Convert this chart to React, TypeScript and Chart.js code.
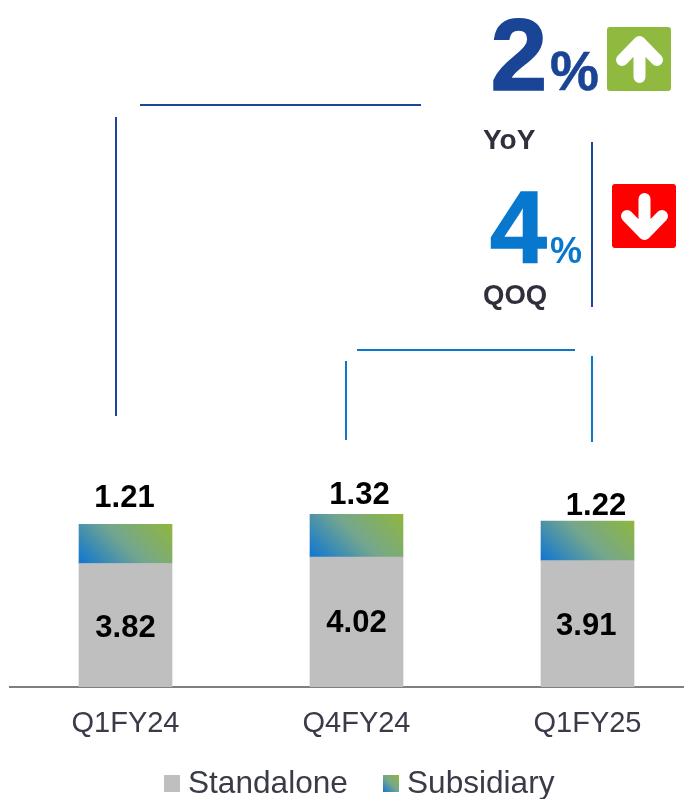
import React, { useEffect, useRef } from "react";
import { Chart, registerables } from "chart.js";

Chart.register(...registerables);

const categories = ["Q1FY24", "Q4FY24", "Q1FY25"];
const standalone = [3.82, 4.02, 3.91];
const subsidiary = [1.21, 1.32, 1.22];
const seriesNames = ["Standalone", "Subsidiary"];

const FONT = '"Liberation Sans", Arial, sans-serif';
const CAT_LABEL = "#3a3b48";
const DARK_BLUE = "#1b479b";
const BLUE = "#0a78cd";

// Label nudges relative to the bar centre / segment, in pixels
const standaloneLabelNudge = [{ x: 0, y: 628 }, { x: 0, y: 623.5 }, { x: -1.3, y: 626 }];
const subsidiaryLabelNudge = [{ x: -1, y: -27 }, { x: 3, y: -20 }, { x: 8.5, y: -16 }];

function addStops(g: CanvasGradient) {
  g.addColorStop(0, "#0e76d2");
  g.addColorStop(0.5, "#74a68e");
  g.addColorStop(1, "#8fb73d");
  return g;
}

function barGradient(context: any) {
  const chart = context.chart;
  const { x, y } = chart.scales;
  const i = context.dataIndex;
  if (!x || !y || i === undefined) return BLUE;
  const cx = x.getPixelForValue(i);
  const bottom = y.getPixelForValue(standalone[i]);
  const top = y.getPixelForValue(standalone[i] + subsidiary[i]);
  if (![cx, bottom, top].every(Number.isFinite)) return BLUE;
  const cy = (bottom + top) / 2;
  const r = (93 + (bottom - top)) / 4;
  return addStops(chart.ctx.createLinearGradient(cx - r, cy + r, cx + r, cy - r));
}

const overlayPlugin = {
  id: "overlayPlugin",
  afterDatasetsDraw(chart: any) {
    const { ctx, scales } = chart;
    ctx.save();
    ctx.fillStyle = "#000";
    ctx.font = `bold 31px ${FONT}`;
    ctx.textAlign = "center";
    ctx.textBaseline = "middle";
    categories.forEach((_, i) => {
      const cx = scales.x.getPixelForValue(i);
      ctx.fillText(standalone[i].toFixed(2), cx + standaloneLabelNudge[i].x, standaloneLabelNudge[i].y);
      const top = scales.y.getPixelForValue(standalone[i] + subsidiary[i]);
      ctx.fillText(subsidiary[i].toFixed(2), cx + subsidiaryLabelNudge[i].x, top + subsidiaryLabelNudge[i].y + 1);
    });
    // legend
    ctx.font = `31.6px ${FONT}`;
    ctx.textAlign = "left";
    ctx.fillStyle = "#bfbfbf";
    ctx.fillRect(164, 775, 16, 17);
    ctx.fillStyle = addStops(ctx.createLinearGradient(382, 792, 399, 775));
    ctx.fillRect(383, 775, 16, 17);
    ctx.fillStyle = CAT_LABEL;
    ctx.fillText(seriesNames[0], 188, 784);
    ctx.fillText(seriesNames[1], 407, 784);
    ctx.restore();
  },
};

export default function App() {
  const ref = useRef<HTMLCanvasElement>(null);
  useEffect(() => {
    document.body.style.margin = "0";
    const chart = new Chart(ref.current!, {
      type: "bar",
      data: {
        labels: categories,
        datasets: [
          { label: seriesNames[0], data: standalone, backgroundColor: "#bfbfbf", barThickness: 93 },
          { label: seriesNames[1], data: subsidiary, backgroundColor: barGradient, barThickness: 93 },
        ],
      },
      options: {
        responsive: false,
        animation: false,
        layout: { padding: { left: 10, right: 15, top: 493, bottom: 52 } },
        plugins: { legend: { display: false }, tooltip: { enabled: false } },
        scales: {
          x: {
            stacked: true,
            grid: { display: false, drawTicks: false },
            border: { color: "#7f7f7f", width: 2 },
            ticks: { color: CAT_LABEL, padding: 20, font: { family: FONT, size: 29 }, maxRotation: 0 },
            afterFit: (s: any) => { s.height = 60; },
          },
          y: { stacked: true, display: false, min: 0, max: 6 },
        },
      } as any,
      plugins: [overlayPlugin],
    });
    return () => chart.destroy();
  }, []);

  return (
    <div style={{ position: "relative", width: 684, height: 799, overflow: "hidden", background: "#fff" }}>
      <canvas ref={ref} width={718} height={799} style={{ position: "absolute", left: 0, top: 0, display: "block" }} />
      <svg width={684} height={799} style={{ position: "absolute", left: 0, top: 0 }} fontFamily={FONT}>
        <g strokeWidth={2} fill="none">
          <path d="M140 105H421M116 117V416M592 142V307" stroke={DARK_BLUE} />
          <path d="M357 350H575M346 361V440M592 356V442" stroke={BLUE} />
        </g>
        <text x={490.5} y={89.5} fontSize={102} fontWeight="bold" fill="#1a4496" stroke="#1a4496" strokeWidth={1.5}>2</text>
        <text x={550} y={90} fontSize={55} fontWeight="bold" fill="#1a4496" stroke="#1a4496" strokeWidth={0.5}>%</text>
        <text x={483} y={149} fontSize={28} fontWeight="bold" fill="#30303c">YoY</text>
        <text x={490} y={261.5} fontSize={102} fontWeight="bold" fill="#0878ce" stroke="#0878ce" strokeWidth={1.5}>4</text>
        <text x={550} y={263} fontSize={36} fontWeight="bold" fill="#0878ce">%</text>
        <text x={483} y={304} fontSize={27.5} fontWeight="bold" fill="#30303c">QOQ</text>
        <rect x={607} y={27} width={64} height={64} rx={3} fill="#8fb93f" />
        <path d="M639.5 77V42M622 60L639.5 42L657 60" stroke="#fff" strokeWidth={12} strokeLinecap="round" strokeLinejoin="round" fill="none" />
        <rect x={612} y={184} width={64} height={64} rx={3} fill="#ff0000" />
        <path d="M644.5 199V234M627 216L644.5 234L662 216" stroke="#fff" strokeWidth={12} strokeLinecap="round" strokeLinejoin="round" fill="none" />
      </svg>
    </div>
  );
}
